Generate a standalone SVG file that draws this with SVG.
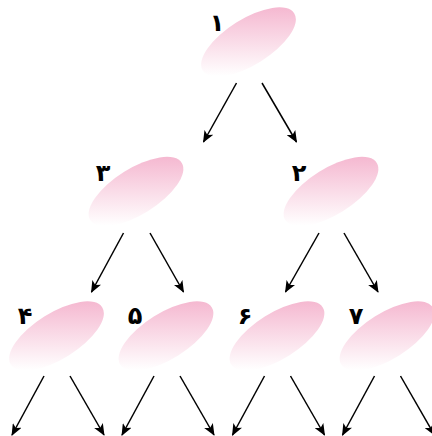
<svg xmlns="http://www.w3.org/2000/svg" width="432" height="436" viewBox="0 0 432 436">
<style>
.lbl{font-family:"DejaVu Sans",sans-serif;font-size:24px;font-weight:bold;fill:#000;text-anchor:middle}
.edge{stroke:#000;stroke-width:1.5;fill:none;marker-end:url(#ah)}
.blob{fill:url(#pk)}
</style>
<defs>
<linearGradient id="pk" gradientUnits="userSpaceOnUse" x1="0" y1="-34" x2="0" y2="34" gradientTransform="rotate(32)">
<stop offset="0" stop-color="#f5b9d1"/>
<stop offset="1" stop-color="#ffffff"/>
</linearGradient>
<marker id="ah" viewBox="0 0 12 10" refX="11" refY="5" markerWidth="12" markerHeight="10" markerUnits="userSpaceOnUse" orient="auto">
<path d="M0,0 L12,5 L0,10 L3,5 Z" fill="#000"/>
</marker>
</defs>
<g id="node1"><g transform="translate(248.5,42)"><ellipse class="blob" rx="54" ry="23" transform="rotate(-32)"/></g><text class="lbl" x="217" y="31">۱</text></g>
<g id="node3"><g transform="translate(136,191.5)"><ellipse class="blob" rx="54" ry="23" transform="rotate(-32)"/></g><text class="lbl" x="103" y="181">۳</text></g>
<g id="node2"><g transform="translate(331,191.5)"><ellipse class="blob" rx="54" ry="23" transform="rotate(-32)"/></g><text class="lbl" x="299" y="181">۲</text></g>
<g id="node4"><g transform="translate(56.5,336)"><ellipse class="blob" rx="54" ry="23" transform="rotate(-32)"/></g><text class="lbl" x="25" y="324">۴</text></g>
<g id="node5"><g transform="translate(166,336)"><ellipse class="blob" rx="54" ry="23" transform="rotate(-32)"/></g><text class="lbl" x="135" y="324">۵</text></g>
<g id="node6"><g transform="translate(277,336)"><ellipse class="blob" rx="54" ry="23" transform="rotate(-32)"/></g><text class="lbl" x="245" y="324">۶</text></g>
<g id="node7"><g transform="translate(387,336)"><ellipse class="blob" rx="54" ry="23" transform="rotate(-32)"/></g><text class="lbl" x="356" y="324">۷</text></g>
<g id="connectors">
<line class="edge" x1="236.5" y1="83" x2="203.5" y2="142"/>
<line class="edge" x1="262" y1="83" x2="296.5" y2="142"/>
<line class="edge" x1="123.5" y1="233" x2="91.5" y2="292"/>
<line class="edge" x1="150" y1="233" x2="183.5" y2="292"/>
<line class="edge" x1="319" y1="233" x2="285.5" y2="292"/>
<line class="edge" x1="344" y1="233" x2="378" y2="292"/>
<line class="edge" x1="44" y1="376" x2="12" y2="435"/>
<line class="edge" x1="70" y1="376" x2="104" y2="435"/>
<line class="edge" x1="154" y1="376" x2="122" y2="435"/>
<line class="edge" x1="180" y1="376" x2="214" y2="435"/>
<line class="edge" x1="264.5" y1="376" x2="232.5" y2="435"/>
<line class="edge" x1="290.5" y1="376" x2="324.5" y2="435"/>
<line class="edge" x1="374.5" y1="376" x2="342.5" y2="435"/>
<line class="edge" x1="400.5" y1="376" x2="434.5" y2="435"/>
</g>
</svg>
